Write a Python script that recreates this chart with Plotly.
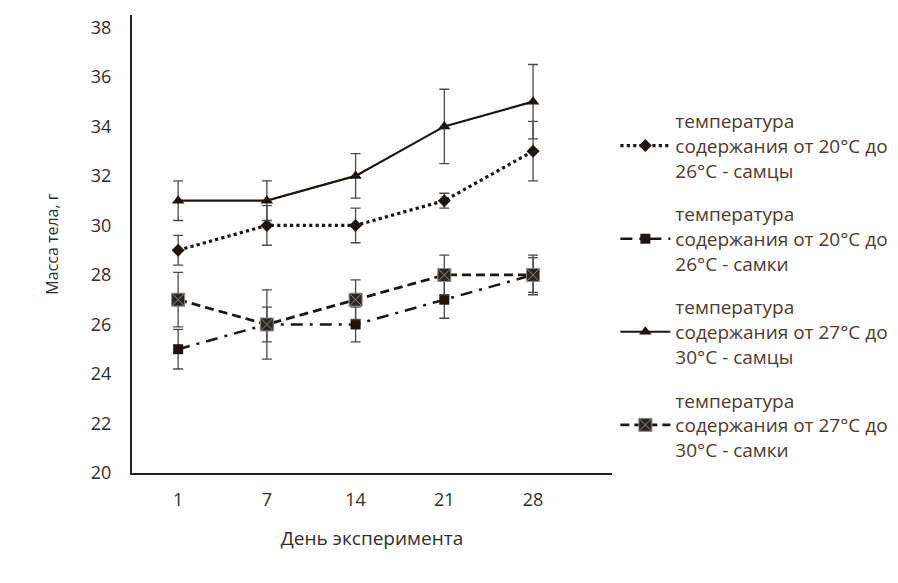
import plotly.graph_objects as go

days = ["1", "7", "14", "21", "28"]

names = [
    "температура<br>содержания от 20°C до<br>26°C - самцы",
    "температура<br>содержания от 20°C до<br>26°C - самки",
    "температура<br>содержания от 27°C до<br>30°C - самцы",
    "температура<br>содержания от 27°C до<br>30°C - самки",
]

m_20_26 = [29, 30, 30, 31, 33]
m_20_26_err = [0.6, 0.8, 0.7, 0.3, 1.2]

f_20_26 = [25, 26, 26, 27, 28]
f_20_26_err = [0.8, 0.7, 0.7, 0.75, 0.7]

m_27_30 = [31, 31, 32, 34, 35]
m_27_30_err = [0.8, 0.8, 0.9, 1.5, 1.5]

f_27_30 = [27, 26, 27, 28, 28]
f_27_30_err = [1.1, 1.4, 0.8, 0.8, 0.8]

y_ticks = [20, 22, 24, 26, 28, 30, 32, 34, 36, 38]

LINE = "#1c1612"
ERR = "#4a4a4a"

def err(v):
    return dict(type="data", array=v, visible=True, color=ERR, thickness=1.3, width=5)

fig = go.Figure()
fig.add_trace(go.Scatter(
    x=days, y=m_20_26, name=names[0], legendgroup="a", mode="lines+markers",
    line=dict(color=LINE, width=3.2, dash="dot"),
    marker=dict(symbol="diamond", size=10, color=LINE),
    error_y=err(m_20_26_err)))
fig.add_trace(go.Scatter(
    x=days, y=f_20_26, name=names[1], legendgroup="b", mode="lines+markers",
    line=dict(color=LINE, width=2.5, dash="12px,7px,3px,7px"),
    marker=dict(symbol="square", size=10, color=LINE),
    error_y=err(f_20_26_err)))
fig.add_trace(go.Scatter(
    x=days, y=m_27_30, name=names[2], legendgroup="c", mode="lines+markers",
    line=dict(color=LINE, width=2.2),
    marker=dict(symbol="triangle-up", size=11, color=LINE),
    error_y=err(m_27_30_err)))
fig.add_trace(go.Scatter(
    x=days, y=f_27_30, name=names[3], legendgroup="d", mode="lines+markers",
    line=dict(color=LINE, width=2.8, dash="9px,5px"),
    marker=dict(symbol="square-x", size=13, color="#2a2622",
                line=dict(color="#8a8a8a", width=1)),
    error_y=err(f_27_30_err)))

# page body has an 8px margin, so the figure is drawn 8px smaller
fig.update_layout(
    width=890, height=575,
    margin=dict(l=124, r=286, t=7, b=110, autoexpand=False),
    paper_bgcolor="white", plot_bgcolor="white",
    font=dict(family="Open Sans", color="#2e2e2e"),
    showlegend=True,
    legend=dict(
        x=1.007, xanchor="left", y=0.81, yanchor="top",
        font=dict(size=19, color="#4a3b30", family="Open Sans"),
        tracegroupgap=16, itemwidth=50,
        bgcolor="rgba(0,0,0,0)",
    ),
)
fig.update_xaxes(
    type="category", range=[-0.52, 4.89], automargin=False,
    showline=True, linecolor="#222", linewidth=2,
    showgrid=False, ticks="", zeroline=False,
    tickfont=dict(size=18, color="#2e2e2e"),
    ticklabelstandoff=9,
    title=dict(text="День эксперимента", font=dict(size=19, color="#2e2e2e"), standoff=22),
)
fig.update_yaxes(
    range=[20, 38.5], tickvals=y_ticks, automargin=False,
    showline=True, linecolor="#222", linewidth=2,
    showgrid=False, ticks="", zeroline=False,
    tickfont=dict(size=18, color="#2e2e2e"),
    ticklabelstandoff=15,
    title=dict(text="Масса тела, г", font=dict(size=16, color="#2e2e2e"), standoff=28),
)

fig.write_html("out.html")
